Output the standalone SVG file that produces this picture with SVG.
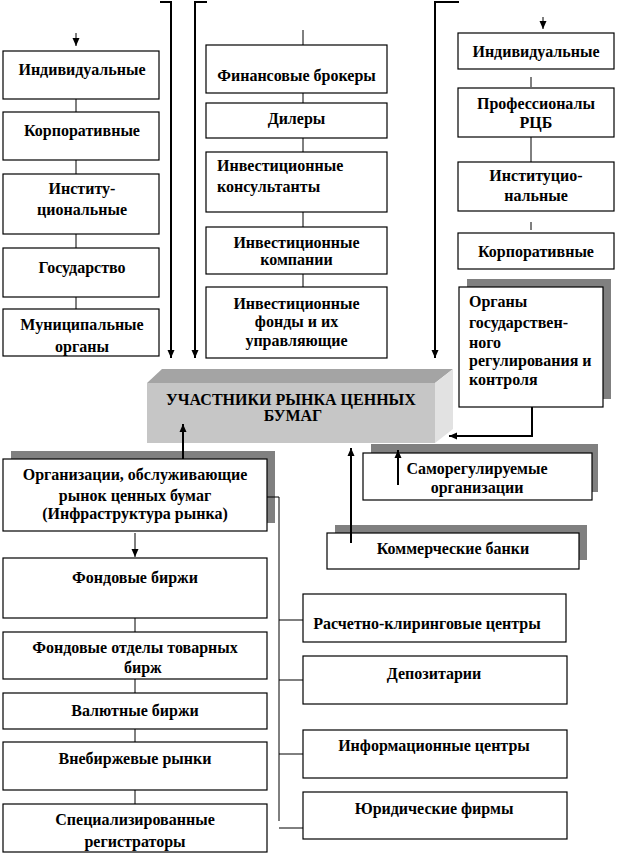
<svg xmlns="http://www.w3.org/2000/svg" width="618" height="855" viewBox="0 0 618 855">
<defs>
<marker id="ah" markerUnits="userSpaceOnUse" markerWidth="8" markerHeight="8" refX="8" refY="4" orient="auto">
<path d="M0,0.5 L8,4 L0,7.5 z" fill="#000"/>
</marker>
<style>
.b{fill:#fff;stroke:#000;stroke-width:1.2}
.sh{fill:#808080}
.t{font-weight:bold;font-size:16px;fill:#000;text-anchor:middle}
.l{text-anchor:start}
.c{stroke:#000;stroke-width:1;fill:none}
.k{stroke:#000;stroke-width:2;fill:none}
</style>
</defs>
<rect width="618" height="855" fill="#fff"/>

<g font-family="'Liberation Serif', 'Times New Roman', 'DejaVu Serif', serif">
<g id="n-ind1"><rect class="b" x="3" y="51" width="156" height="48"/><text class="t" x="82" y="75">Индивидуальные</text></g>
<g id="n-corp1"><rect class="b" x="3" y="112" width="156" height="48"/><text class="t" x="82" y="136">Корпоративные</text></g>
<g id="n-inst1"><rect class="b" x="3" y="174" width="156" height="60"/><text class="t" x="82" y="194">Институ-</text><text class="t" x="82" y="215">циональные</text></g>
<g id="n-gos"><rect class="b" x="3" y="248" width="156" height="49"/><text class="t" x="82" y="273">Государство</text></g>
<g id="n-mun"><rect class="b" x="3" y="309" width="156" height="47"/><text class="t" x="82" y="330">Муниципальные</text><text class="t" x="82" y="352">органы</text></g>

<g id="n-brok"><rect class="b" x="206" y="45" width="181" height="48"/><text class="t" x="296.5" y="81">Финансовые брокеры</text></g>
<g id="n-dil"><rect class="b" x="206" y="103" width="181" height="35"/><text class="t" x="296.5" y="124">Дилеры</text></g>
<g id="n-cons"><rect class="b" x="206" y="152" width="181" height="60"/><text class="t l" x="217" y="171">Инвестиционные</text><text class="t l" x="217" y="192">консультанты</text></g>
<g id="n-comp"><rect class="b" x="206" y="227" width="181" height="47"/><text class="t" x="296.5" y="248">Инвестиционные</text><text class="t" x="296.5" y="265">компании</text></g>
<g id="n-fund"><rect class="b" x="206" y="287" width="181" height="71"/><text class="t" x="296.5" y="309">Инвестиционные</text><text class="t" x="296.5" y="327">фонды и их</text><text class="t" x="296.5" y="346">управляющие</text></g>

<g id="n-ind2"><rect class="b" x="458" y="33" width="156" height="36"/><text class="t" x="536" y="57">Индивидуальные</text></g>
<g id="n-prof"><rect class="b" x="458" y="88" width="156" height="49"/><text class="t" x="536" y="109">Профессионалы</text><text class="t" x="536" y="128">РЦБ</text></g>
<g id="n-inst2"><rect class="b" x="458" y="162" width="156" height="49"/><text class="t" x="536" y="181">Институцио-</text><text class="t" x="536" y="201">нальные</text></g>
<g id="n-corp2"><rect class="b" x="458" y="233" width="156" height="36"/><text class="t" x="536" y="257">Корпоративные</text></g>
<g id="n-gosreg"><rect class="sh" x="467" y="279" width="144" height="120"/><rect class="b" x="459" y="287" width="144" height="120"/>
<text class="t l" x="469" y="307">Органы</text><text class="t l" x="469" y="328">государствен-</text><text class="t l" x="469" y="348">ного</text><text class="t l" x="469" y="366">регулирования и</text><text class="t l" x="469" y="385">контроля</text></g>

<g id="n-main">
<polygon points="147,383 162,369 453,369 435,383" fill="#a4a4a4"/>
<polygon points="435,383 453,369 453,429 435,443" fill="#e2e2e2"/>
<rect x="147" y="383" width="288" height="60" fill="#c6c6c6"/>
<text class="t" x="291" y="405">УЧАСТНИКИ РЫНКА ЦЕННЫХ</text>
<text class="t" x="293" y="421">БУМАГ</text>
</g>

<g id="n-sro"><rect class="sh" x="371" y="444" width="227" height="48"/><rect class="b" x="363" y="453" width="229" height="47"/><text class="t" x="477" y="474">Саморегулируемые</text><text class="t" x="477" y="493">организации</text></g>
<g id="n-bank"><rect class="sh" x="335" y="525" width="252" height="35"/><rect class="b" x="327" y="533" width="252" height="36"/><text class="t" x="453" y="554">Коммерческие банки</text></g>

<g id="n-infra"><rect class="sh" x="11" y="451" width="264" height="72"/><rect class="b" x="3" y="459" width="264" height="72"/>
<text class="t" x="135" y="480">Организации,  обслуживающие</text><text class="t" x="135" y="501">рынок ценных бумаг</text><text class="t" x="135" y="519">(Инфраструктура  рынка)</text></g>

<g id="n-fb"><rect class="b" x="3" y="558" width="264" height="60"/><text class="t" x="135" y="583">Фондовые  биржи</text></g>
<g id="n-fot"><rect class="b" x="3" y="632" width="264" height="47"/><text class="t" x="135" y="653">Фондовые отделы товарных</text><text class="t l" x="124" y="673">бирж</text></g>
<g id="n-val"><rect class="b" x="3" y="693" width="264" height="36"/><text class="t" x="135" y="716">Валютные биржи</text></g>
<g id="n-vne"><rect class="b" x="3" y="742" width="264" height="48"/><text class="t" x="135" y="764">Внебиржевые рынки</text></g>
<g id="n-spec"><rect class="b" x="3" y="804" width="264" height="48"/><text class="t" x="135" y="825">Специализированные</text><text class="t" x="135" y="847">регистраторы</text></g>

<g id="n-rkc"><rect class="b" x="303" y="594" width="263" height="48"/><text class="t" x="427" y="629">Расчетно-клиринговые центры</text></g>
<g id="n-dep"><rect class="b" x="303" y="656" width="264" height="48"/><text class="t" x="434" y="679">Депозитарии</text></g>
<g id="n-info"><rect class="b" x="303" y="730" width="264" height="48"/><text class="t" x="434" y="751">Информационные центры</text></g>
<g id="n-jur"><rect class="b" x="303" y="792" width="264" height="47"/><text class="t" x="434" y="814">Юридические фирмы</text></g>
</g>

<g id="connectors">
<path class="k" d="M160,2 H171 V358" marker-end="url(#ah)"/>
<path class="k" d="M207,2 H195 V358" marker-end="url(#ah)"/>
<path class="k" d="M459,2 H435 V358" marker-end="url(#ah)"/>
<path class="c" d="M76,33 V46" marker-end="url(#ah)"/>
<path class="c" d="M543,17 V29" marker-end="url(#ah)"/>
<path class="c" d="M76,99 V112 M76,160 V174 M76,234 V248 M76,297 V309"/>
<path class="c" d="M303,30 V45 M303,93 V103 M303,138 V152 M303,212 V227 M303,274 V287"/>
<path class="c" d="M531,77 V87 M531,137 V162 M531,222 V230"/>
<path class="k" d="M532,407 V436 H449" marker-end="url(#ah)"/>
<path class="k" d="M183,459 V424" marker-end="url(#ah)"/>
<path class="k" d="M351,543 V448" marker-end="url(#ah)"/>
<path class="k" d="M398,485 V450" marker-end="url(#ah)"/>
<path class="c" d="M135,533 V557" marker-end="url(#ah)"/>
<path class="c" d="M135,618 V632 M135,679 V693 M135,729 V742 M135,790 V804"/>
<path class="c" d="M267,497 H279 V821 M279,620 H303 M279,680 H303 M279,754 H303 M279,828 H303"/>
</g>
</svg>
